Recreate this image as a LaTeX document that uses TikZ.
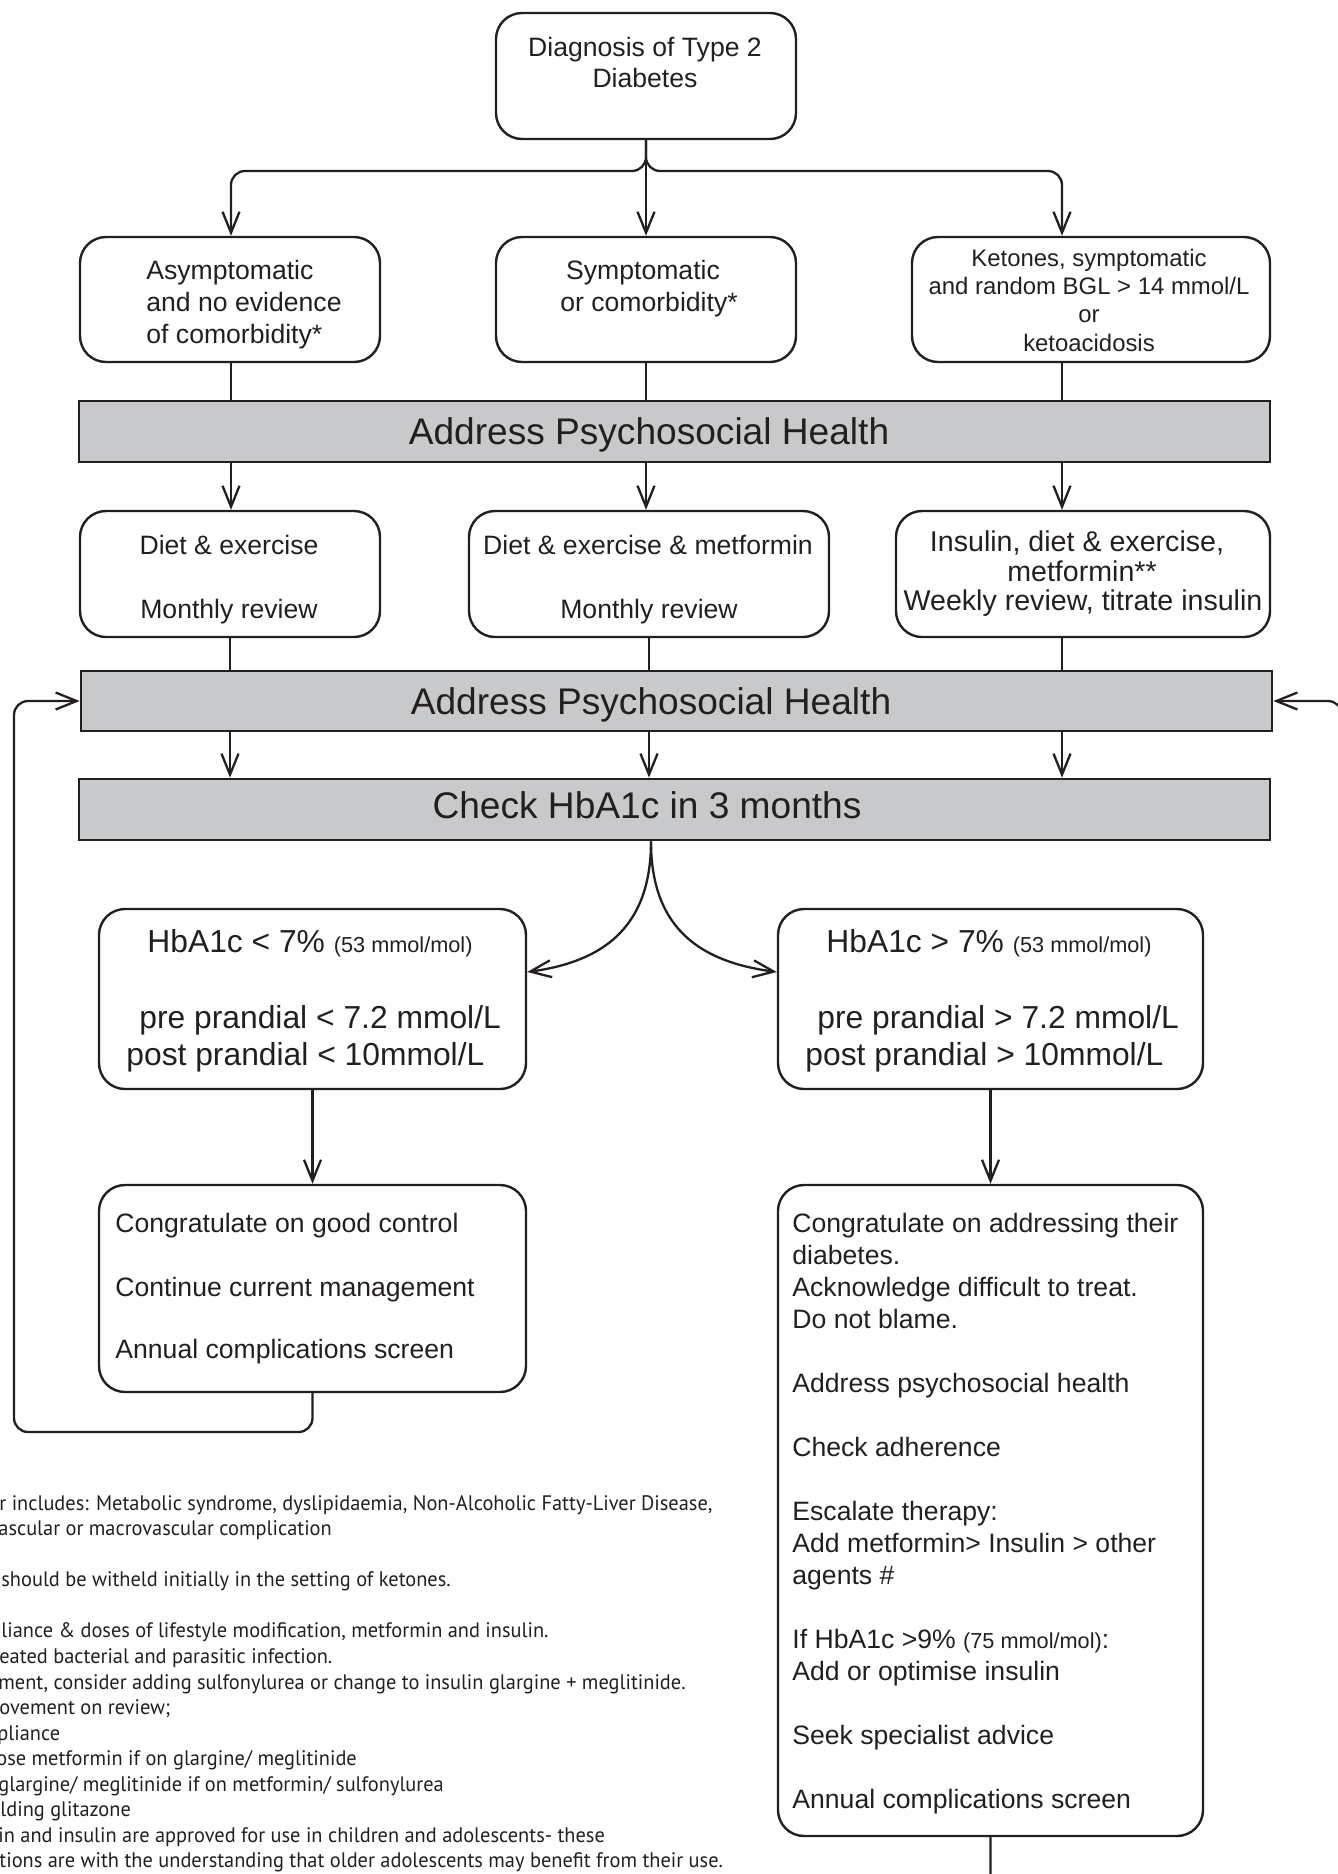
\documentclass[tikz,border=0pt]{standalone}
\usepackage{fontspec}
\setmainfont{Liberation Sans}
\newfontfamily\notefont[FakeStretch=0.97]{PT Sans}
\usetikzlibrary{arrows.meta,fit}
\definecolor{ink}{HTML}{231F20}
\definecolor{bargray}{RGB}{200,201,203}
\tikzset{
  conn/.style={draw=ink, line width=1.15pt},
  arr/.style={conn, -{Straight Barb[length=10.5pt,width=8.5pt]}},
  rbox/.style={draw=ink, line width=1.2pt, rounded corners=13pt, inner sep=0pt},
  bar/.style={draw=ink, line width=1.3pt, fill=bargray, inner sep=0pt},
  txt/.style={inner sep=0pt, text=ink, font=\fontsize{13.3}{16}\selectfont},
  txtsm/.style={inner sep=0pt, text=ink, font=\fontsize{11.95}{14}\selectfont},
  txtmd/.style={inner sep=0pt, text=ink, font=\fontsize{14.3}{17}\selectfont},
  txthb/.style={inner sep=0pt, text=ink, font=\fontsize{15.9}{19}\selectfont},
  bartxt/.style={inner sep=0pt, text=ink, font=\fontsize{18.55}{22}\selectfont},
  note/.style={inner sep=0pt, text=ink, anchor=base west, font=\notefont\fontsize{10.5}{12.75}\selectfont},
}
\newcommand\smallpar[1]{{\fontsize{10.85}{13}\selectfont #1}}
\begin{document}
\begin{tikzpicture}[x=0.5pt,y=-0.5pt]
\useasboundingbox (0,0) rectangle (1338,1874);
\clip (0,0) rectangle (1338,1874);

% columns
\coordinate (c1) at (231,0);
\coordinate (c2) at (646,0);
\coordinate (c3) at (1062,0);
\coordinate (split) at (646,171);
\coordinate (fork) at (651,840);
\coordinate (loopL) at (14,1432);
\coordinate (loopR) at (1342,1890);

% top box
\node[rbox, fit={(496,13) (796,139)}] (diag) {};
\node[txt, anchor=base] (diagt1) at (645,56) {Diagnosis of Type 2};
\node[txt, anchor=base] (diagt2) at (645,87) {Diabetes};

% row 2
\node[rbox, fit={(80,237) (380,362)}] (r2a) {};
\node[txt, anchor=base west] (r2at1) at (146,279) {Asymptomatic};
\node[txt, anchor=base west] (r2at2) at (146,311) {and no evidence};
\node[txt, anchor=base west] (r2at3) at (146,343) {of comorbidity*};

\node[rbox, fit={(496,237) (796,362)}] (r2b) {};
\node[txt, anchor=base] (r2bt1) at (643,279) {Symptomatic};
\node[txt, anchor=base] (r2bt2) at (649,311) {or comorbidity*};

\node[rbox, fit={(912,237) (1270,362)}] (r2c) {};
\node[txtsm, anchor=base] (r2ct1) at (1089,266) {Ketones, symptomatic};
\node[txtsm, anchor=base] (r2ct2) at (1089,294) {and random BGL > 14 mmol/L};
\node[txtsm, anchor=base] (r2ct3) at (1089,322) {or};
\node[txtsm, anchor=base] (r2ct4) at (1089,351) {ketoacidosis};

% bar 1
\node[bar, fit={(79,401) (1270,462)}] (bar1) {};
\node[bartxt, anchor=base] (bar1t) at (649,444) {Address Psychosocial Health};

% row 3
\node[rbox, fit={(80,511) (380,637)}] (r3a) {};
\node[txt, anchor=base] (r3at1) at (229,554) {Diet \& exercise};
\node[txt, anchor=base] (r3at2) at (229,618) {Monthly review};

\node[rbox, fit={(469,511) (829,637)}] (r3b) {};
\node[txt, anchor=base] (r3bt1) at (648,554) {Diet \& exercise \& metformin};
\node[txt, anchor=base] (r3bt2) at (649,618) {Monthly review};

\node[rbox, fit={(896,511) (1270,637)}] (r3c) {};
\node[txtmd, anchor=base] (r3ct1) at (1077,551) {Insulin, diet \& exercise,};
\node[txtmd, anchor=base] (r3ct2) at (1082,581) {metformin**};
\node[txtmd, anchor=base] (r3ct3) at (1083,610) {Weekly review, titrate insulin};

% bar 2
\node[bar, fit={(81,671) (1272,731)}] (bar2) {};
\node[bartxt, anchor=base] (bar2t) at (651,714) {Address Psychosocial Health};

% HbA1c bar
\node[bar, fit={(79,779) (1270,840)}] (hb) {};
\node[bartxt, anchor=base] (hbt) at (647,818) {Check HbA1c in 3 months};

% low / high boxes
\node[rbox, fit={(99,909) (526,1089)}] (low) {};
\node[txthb, anchor=base west] (lowt1) at (147,952) {HbA1c < 7\% \smallpar{(53 mmol/mol)}};
\node[txthb, anchor=base west] (lowt2) at (139,1028) {pre prandial < 7.2 mmol/L};
\node[txthb, anchor=base west] (lowt3) at (126,1065) {post prandial < 10mmol/L};

\node[rbox, fit={(778,909) (1203,1089)}] (high) {};
\node[txthb, anchor=base west] (hight1) at (826,952) {HbA1c > 7\% \smallpar{(53 mmol/mol)}};
\node[txthb, anchor=base west] (hight2) at (817,1028) {pre prandial > 7.2 mmol/L};
\node[txthb, anchor=base west] (hight3) at (805,1065) {post prandial > 10mmol/L};

% action boxes
\node[rbox, fit={(99,1185) (526,1392)}] (lowact) {};
\node[txt, anchor=base west] (lowa1) at (115,1232) {Congratulate on good control};
\node[txt, anchor=base west] (lowa2) at (115,1296) {Continue current management};
\node[txt, anchor=base west] (lowa3) at (115,1358) {Annual complications screen};

\node[rbox, fit={(778,1185) (1203,1836)}] (highact) {};
\node[txt, anchor=base west] (ha1) at (792,1232) {Congratulate on addressing their};
\node[txt, anchor=base west] (ha2) at (792,1264) {diabetes.};
\node[txt, anchor=base west] (ha3) at (792,1296) {Acknowledge difficult to treat.};
\node[txt, anchor=base west] (ha4) at (792,1328) {Do not blame.};
\node[txt, anchor=base west] (ha5) at (792,1392) {Address psychosocial health};
\node[txt, anchor=base west] (ha6) at (792,1456) {Check adherence};
\node[txt, anchor=base west] (ha7) at (792,1520) {Escalate therapy:};
\node[txt, anchor=base west] (ha8) at (792,1552) {Add metformin> Insulin > other};
\node[txt, anchor=base west] (ha9) at (792,1584) {agents \#};
\node[txt, anchor=base west] (ha10) at (792,1648) {If HbA1c >9\% \smallpar{(75 mmol/mol)}:};
\node[txt, anchor=base west] (ha11) at (792,1680) {Add or optimise insulin};
\node[txt, anchor=base west] (ha12) at (792,1744) {Seek specialist advice};
\node[txt, anchor=base west] (ha13) at (792,1808) {Annual complications screen};

% footnotes (cut at the left edge)
\node[note] (n1) at (-1,1510) {r includes: Metabolic syndrome, dyslipidaemia, Non-Alcoholic Fatty-Liver Disease,};
\node[note] (n2) at (-2,1535.5) {ascular or macrovascular complication};
\node[note] (n3) at (1,1586.5) {should be witheld initially in the setting of ketones.};
\node[note] (n4) at (1,1637.5) {liance \& doses of lifestyle modification, metformin and insulin.};
\node[note] (n5) at (-1,1663.5) {eated bacterial and parasitic infection.};
\node[note] (n6) at (-2,1689) {ment, consider adding sulfonylurea or change to insulin glargine + meglitinide.};
\node[note] (n7) at (-1,1714.5) {ovement on review;};
\node[note] (n8) at (-3,1740) {pliance};
\node[note] (n9) at (-4,1765.5) {ose metformin if on glargine/ meglitinide};
\node[note] (n10) at (-2,1791) {glargine/ meglitinide if on metformin/ sulfonylurea};
\node[note] (n11) at (0,1816.5) {lding glitazone};
\node[note] (n12) at (-2,1842) {in and insulin are approved for use in children and adolescents- these};
\node[note] (n13) at (-1,1867.5) {tions are with the understanding that older adolescents may benefit from their use.};

% connectors: top split
\draw[arr, rounded corners=7pt] (diag.south) |- (split -| c1) -- (c1 |- r2a.north);
\draw[arr] (diag.south) -- (r2b.north);
\draw[arr, rounded corners=7pt] (diag.south) |- (split -| c3) -- (c3 |- r2c.north);

% row 2 -> bar 1
\draw[conn] (c1 |- r2a.south) -- (c1 |- bar1.north);
\draw[conn] (c2 |- r2b.south) -- (c2 |- bar1.north);
\draw[conn] (c3 |- r2c.south) -- (c3 |- bar1.north);

% bar 1 -> row 3
\draw[arr] (c1 |- bar1.south) -- (c1 |- r3a.north);
\draw[arr] (c2 |- bar1.south) -- (c2 |- r3b.north);
\draw[arr] (c3 |- bar1.south) -- (c3 |- r3c.north);

% row 3 -> bar 2
\draw[conn] (r3a.south) -- (r3a.south |- bar2.north);
\draw[conn] (r3b.south) -- (r3b.south |- bar2.north);
\draw[conn] (c3 |- r3c.south) -- (c3 |- bar2.north);

% bar 2 -> HbA1c bar
\draw[arr] (r3a.south |- bar2.south) -- (r3a.south |- hb.north);
\draw[arr] (r3b.south |- bar2.south) -- (r3b.south |- hb.north);
\draw[arr] (c3 |- bar2.south) -- (c3 |- hb.north);

% HbA1c bar -> low / high
\draw[arr] (fork |- hb.south) .. controls (651,930) and (600,962) .. ([yshift=13.5pt]low.east);
\draw[arr] (fork |- hb.south) .. controls (651,930) and (702,962) .. ([yshift=13.5pt]high.west);

% low / high -> actions
\draw[arr] (low.south) -- (lowact.north);
\draw[arr] (high.south) -- (highact.north);

% feedback loops
\draw[arr, rounded corners=7pt] (lowact.south) |- (loopL) |- (bar2.west);
\draw[arr, rounded corners=7pt] (highact.south) |- (loopR) |- (bar2.east);
\end{tikzpicture}
\end{document}
